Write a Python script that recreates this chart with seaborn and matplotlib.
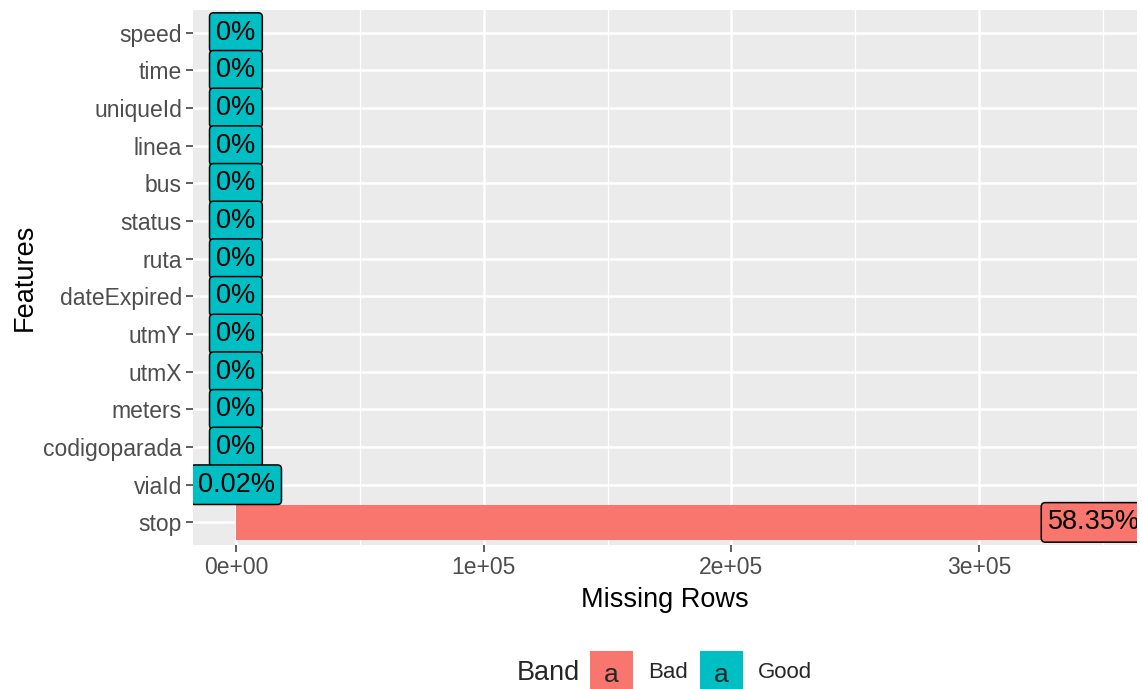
import numpy as np
import pandas as pd
import matplotlib
matplotlib.use("Agg")
import matplotlib.pyplot as plt
from matplotlib.patches import Rectangle
from matplotlib.ticker import FuncFormatter, MultipleLocator
import seaborn as sns

# data (DataExplorer-style missing profile)
total_rows = 593700
features = ["speed", "time", "uniqueId", "linea", "bus", "status", "ruta",
            "dateExpired", "utmY", "utmX", "meters", "codigoparada", "viaId", "stop"]
missing_rows = [0, 0, 0, 0, 0, 0, 0, 0, 0, 0, 0, 0, 120, 346400]
band = ["Good"] * 13 + ["Bad"]
palette = {"Bad": "#F8766D", "Good": "#00BFC4"}

df = pd.DataFrame({"feature": features, "missing": missing_rows, "band": band})
df["pct"] = [f"{round(100 * m / total_rows, 2):g}%" for m in df["missing"]]

sns.set_theme(style="darkgrid")
plt.rcParams["font.family"] = ["Liberation Sans", "DejaVu Sans"]

fig = plt.figure(figsize=(11.42, 6.89), dpi=100)
ax = fig.add_axes([193 / 1142, 1 - 545 / 689, 944 / 1142, 535 / 689])

sns.barplot(data=df, x="missing", y="feature", hue="band", palette=palette,
            dodge=False, width=0.93, order=features, legend=False, ax=ax,
            linewidth=0, saturation=1)

# percent labels, ggplot geom_label style
for i, row in df.iterrows():
    ax.text(row["missing"], i, row["pct"], ha="center", va="center",
            fontsize=19.5, color="black", clip_on=True, zorder=5,
            bbox=dict(boxstyle="round,pad=0.25,rounding_size=0.15",
                      fc=palette[row["band"]], ec="black", lw=1.1))

xmax = max(missing_rows)
ax.set_xlim(-0.05 * xmax, 1.05 * xmax)
ax.set_ylim(len(features) - 0.4, -0.6)

ax.set_facecolor("#EBEBEB")
ax.xaxis.set_major_locator(MultipleLocator(1e5))
ax.xaxis.set_minor_locator(MultipleLocator(5e4))
ax.xaxis.set_major_formatter(FuncFormatter(lambda v, p: f"{v:.0e}"))
ax.grid(which="major", color="white", lw=1.8)
ax.grid(which="minor", axis="x", color="white", lw=0.9)
ax.set_axisbelow(True)
for s in ax.spines.values():
    s.set_visible(False)

ax.tick_params(axis="both", which="major", length=5, width=1.1, color="#333333",
               labelsize=16.5, labelcolor="#4D4D4D", pad=3, bottom=True, left=True)
ax.tick_params(axis="x", which="minor", length=0)
ax.set_xlabel("Missing Rows", fontsize=19.5, color="black", labelpad=6)
ax.set_ylabel("Features", fontsize=19.5, color="black", labelpad=4)

# bottom legend, built by hand like ggplot's label keys
fig.text(517 / 1142, 1 - 673 / 689, "Band", fontsize=19.5, va="center", ha="left")
for x0, name in [(590, "Bad"), (700, "Good")]:
    fig.add_artist(Rectangle((x0 / 1142, 1 - 692 / 689), 43 / 1142, 41 / 689,
                             transform=fig.transFigure, fc=palette[name], ec="none"))
    fig.text((x0 + 21.5) / 1142, 1 - 675 / 689, "a", fontsize=19, ha="center", va="center")
    fig.text((x0 + 58) / 1142, 1 - 673 / 689, name, fontsize=16, ha="left", va="center")

fig.savefig("out.png", dpi=100)
